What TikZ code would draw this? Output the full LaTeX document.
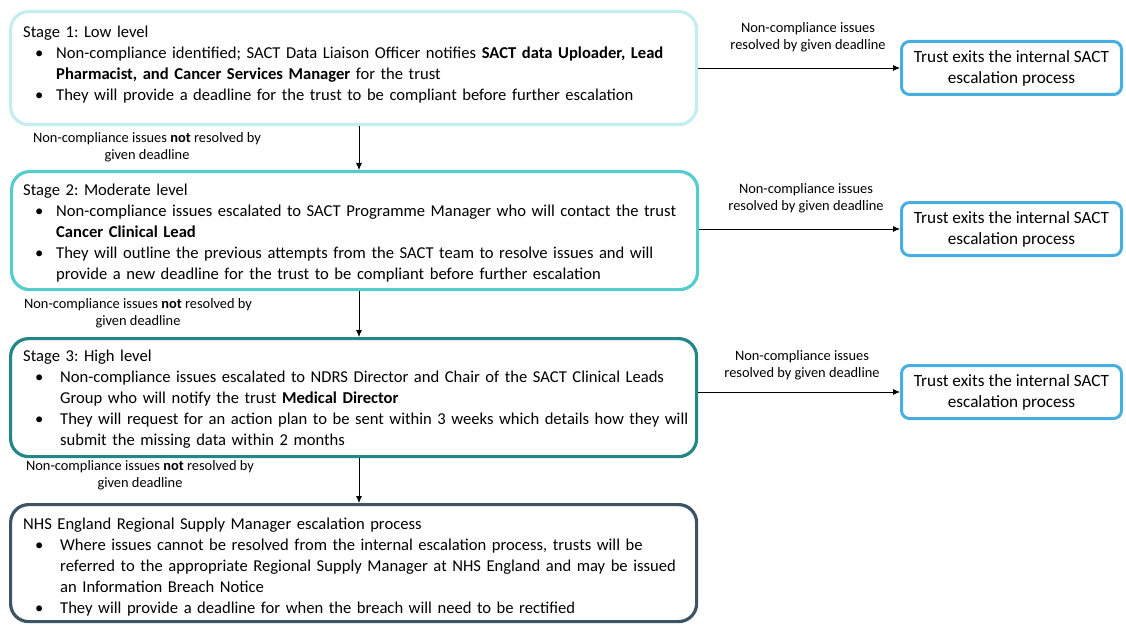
\documentclass[tikz,border=0pt]{standalone}
\usepackage{fontspec}
\setmainfont{Carlito}
\usetikzlibrary{arrows.meta}
\frenchspacing
\definecolor{cOne}{HTML}{C3EDEE}
\definecolor{cTwo}{HTML}{55CDCD}
\definecolor{cThree}{HTML}{238787}
\definecolor{cFour}{HTML}{3E5464}
\definecolor{cExit}{HTML}{46AEE3}
\newcommand{\bulA}{\hangindent=33pt\hangafter=1\noindent\hspace*{12pt}\makebox[21pt][l]{•}}
\newcommand{\bulB}{\hangindent=37pt\hangafter=1\noindent\hspace*{12pt}\makebox[25pt][l]{•}}
\tikzset{
  stagebox/.style={draw=#1, line width=3.2pt, rounded corners=18pt, anchor=north west, inner sep=0pt},
  exitbox/.style={draw=cExit, line width=3pt, rounded corners=8pt, anchor=north west, inner sep=0pt,
    minimum width=220pt, minimum height=53pt, align=center, font=\fontsize{17.2}{21}\selectfont},
  bodytext/.style={anchor=north west, text width=700pt, align=left, inner sep=0pt,
    font=\fontsize{16.6}{21}\selectfont},
  lbl/.style={align=center, font=\fontsize{14.4}{17}\selectfont, inner sep=0pt},
  conn/.style={-{Latex[length=7pt,width=6pt]}, line width=0.8pt}
}
\begin{document}
\begin{tikzpicture}[x=1pt,y=-1pt]
\useasboundingbox (0,0) rectangle (1126,631);
% stage boxes
\node[stagebox=cOne, minimum width=686pt, minimum height=113pt] (s1) at (9,10) {};
\node[stagebox=cTwo, minimum width=686pt, minimum height=118pt] (s2) at (10,170) {};
\node[stagebox=cThree, minimum width=686pt, minimum height=118pt] (s3) at (9,337) {};
\node[stagebox=cFour, minimum width=686pt, minimum height=117pt] (s4) at (9,503) {};
% texts
\node[bodytext] (t1) at (23,26) {Stage 1: Low level\par
\bulA Non-compliance identified; SACT Data Liaison Officer notifies \textbf{SACT data Uploader, Lead}\newline \textbf{Pharmacist, and Cancer Services Manager} for the trust\par
\bulA They will provide a deadline for the trust to be compliant before further escalation\par};
\node[bodytext] (t2) at (23,184) {Stage 2: Moderate level\par
\bulA Non-compliance issues escalated to SACT Programme Manager who will contact the trust\newline \textbf{Cancer Clinical Lead}\par
\bulA They will outline the previous attempts from the SACT team to resolve issues and will\newline provide a new deadline for the trust to be compliant before further escalation\par};
\node[bodytext] (t3) at (23,350) {Stage 3: High level\par
\bulB Non-compliance issues escalated to NDRS Director and Chair of the SACT Clinical Leads\newline Group who will notify the trust \textbf{Medical Director}\par
\bulB They will request for an action plan to be sent within 3 weeks which details how they will\newline submit the missing data within 2 months\par};
\node[bodytext] (t4) at (23,518) {NHS England Regional Supply Manager escalation process\par
\bulB Where issues cannot be resolved from the internal escalation process, trusts will be\newline referred to the appropriate Regional Supply Manager at NHS England and may be issued\newline an Information Breach Notice\par
\bulB They will provide a deadline for when the breach will need to be rectified\par};
% exit boxes
\node[exitbox] (e1) at (900,40) {Trust exits the internal SACT\\escalation process};
\node[exitbox] (e2) at (900,201) {Trust exits the internal SACT\\escalation process};
\node[exitbox] (e3) at (900,364) {Trust exits the internal SACT\\escalation process};
% horizontal connectors
\draw[conn] (s1.east |- e1.west) -- (e1.west);
\draw[conn] (s2.east |- e2.west) -- (e2.west);
\draw[conn] (s3.east |- e3.west) -- (e3.west);
% vertical connectors
\coordinate (v) at (359,0);
\draw[conn] (v |- s1.south) -- (v |- s2.north);
\draw[conn] (v |- s2.south) -- (v |- s3.north);
\draw[conn] (v |- s3.south) -- (v |- s4.north);
% labels
\node[lbl] (l1) at (808,37) {Non-compliance issues\\resolved by given deadline};
\node[lbl] (l2) at (806,198) {Non-compliance issues\\resolved by given deadline};
\node[lbl] (l3) at (802,365) {Non-compliance issues\\resolved by given deadline};
\node[lbl] (d1) at (147,147) {Non-compliance issues \textbf{not} resolved by\\given deadline};
\node[lbl] (d2) at (138,313) {Non-compliance issues \textbf{not} resolved by\\given deadline};
\node[lbl] (d3) at (140,475) {Non-compliance issues \textbf{not} resolved by\\given deadline};
\end{tikzpicture}
\end{document}
